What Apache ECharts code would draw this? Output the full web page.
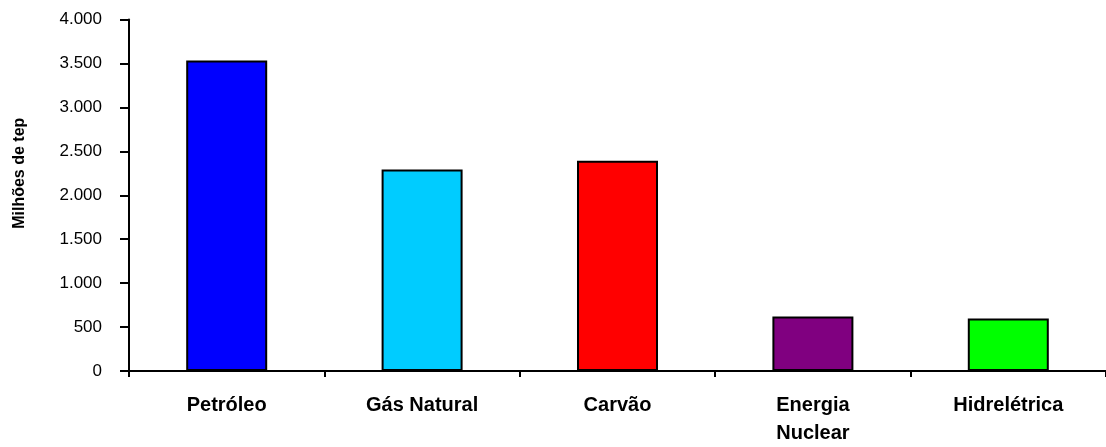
<!DOCTYPE html>
<html>
<head>
<meta charset="utf-8">
<script src="https://cdn.jsdelivr.net/npm/echarts@6/dist/echarts.min.js"></script>
<style>html,body{margin:0;padding:0;background:#fff}#c{width:1106px;height:447px}</style>
</head>
<body>
<div id="c"></div>
<script>
const categories = ['Petróleo', 'Gás Natural', 'Carvão', 'Energia\nNuclear', 'Hidrelétrica'];
const values = [3534, 2292, 2393, 619, 597];
const barColors = ['#0000FF', '#00CCFF', '#FF0000', '#800080', '#00FF00'];
const yTicks = { min: 0, max: 4000, interval: 500 };

const chart = echarts.init(document.getElementById('c'), null, { renderer: 'canvas' });
chart.setOption({
  animation: false,
  backgroundColor: '#fff',
  grid: { left: 129, top: 19.5, width: 982, bottom: 73.5, containLabel: false },
  xAxis: {
    type: 'category',
    data: categories,
    axisLine: { lineStyle: { color: '#000', width: 2 } },
    axisTick: { show: true, inside: false, length: 6, lineStyle: { color: '#000', width: 2 } },
    axisLabel: {
      color: '#000', fontFamily: 'Liberation Sans, Arial, sans-serif', fontWeight: 'bold',
      fontSize: 20, lineHeight: 28, margin: 20, interval: 0
    },
    splitLine: { show: false }
  },
  yAxis: {
    type: 'value',
    min: yTicks.min, max: yTicks.max, interval: yTicks.interval,
    name: 'Milhões de tep',
    nameLocation: 'middle',
    nameGap: 101,
    nameRotate: 90,
    nameTextStyle: {
      color: '#000', fontFamily: 'Liberation Sans, Arial, sans-serif', fontWeight: 'bold', fontSize: 16,
      padding: [0, 0, 0, 44]
    },
    axisLine: { show: true, lineStyle: { color: '#000', width: 2 } },
    axisTick: { show: true, inside: false, length: 9, lineStyle: { color: '#000', width: 2 } },
    axisLabel: {
      color: '#000', fontFamily: 'Liberation Sans, Arial, sans-serif', fontSize: 17, margin: 27,
      formatter: v => String(v).replace(/\B(?=(\d{3})+(?!\d))/g, '.')
    },
    splitLine: { show: false }
  },
  series: [{
    type: 'bar',
    data: values.map((v, i) => ({ value: v, itemStyle: { color: barColors[i] } })),
    barWidth: 81,
    itemStyle: { borderColor: '#000', borderWidth: 2 }
  }]
});
</script>
</body>
</html>
